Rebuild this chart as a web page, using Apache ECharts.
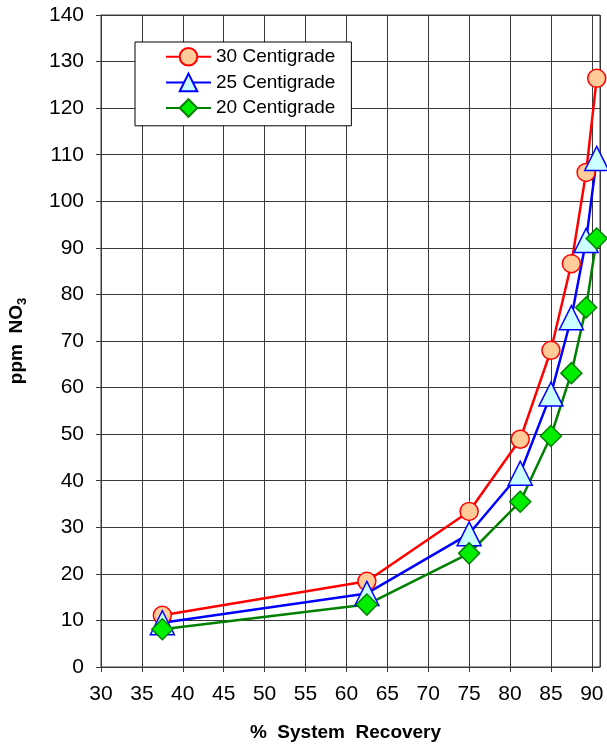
<!DOCTYPE html>
<html>
<head>
<meta charset="utf-8">
<script src="https://cdn.jsdelivr.net/npm/echarts@6/dist/echarts.min.js"></script>
<style>
  html, body { margin: 0; padding: 0; background: #fff; }
  #chart { width: 607px; height: 746px; }
</style>
</head>
<body>
<div id="chart"></div>
<script>
// % system recovery (x) for each measurement
const recovery = [37.5, 62.5, 75, 81.25, 85, 87.5, 89.3, 90.6];
// ppm NO3 at each recovery level, by feed temperature
const temp30 = [11.1, 18.4, 33.4, 48.9, 68.0, 86.6, 106.2, 126.4];
const temp25 = [9.5, 15.8, 28.6, 41.6, 58.6, 75.0, 91.6, 109.2];
const temp20 = [8.1, 13.4, 24.4, 35.5, 49.6, 63.1, 77.2, 92.0];
const seriesNames = ['30 Centigrade', '25 Centigrade', '20 Centigrade'];

const pairs = (ys) => recovery.map((x, i) => [x, ys[i]]);
const font = 'Liberation Sans, Arial, sans-serif';
const gridColor = '#3a3a3a';

const chart = echarts.init(document.getElementById('chart'), null, { renderer: 'canvas' });

function lineSeries(name, ys, lineColor, symbol, symbolSize, fill, stroke) {
  return {
    name: name,
    type: 'line',
    data: pairs(ys),
    symbol: symbol,
    symbolSize: symbolSize,
    lineStyle: { color: lineColor, width: 2.5 },
    itemStyle: { color: fill, borderColor: stroke, borderWidth: 1.5 },
    emphasis: { disabled: true },
    z: 3
  };
}

chart.setOption({
  animation: false,
  backgroundColor: '#fff',
  grid: {
    left: 101, top: 15, right: 7, bottom: 79,
    outerBoundsMode: 'none',
    containLabel: false,
    show: true, borderColor: gridColor, borderWidth: 1
  },
  legend: {
    orient: 'vertical',
    left: 135, top: 42,
    data: seriesNames,
    backgroundColor: '#fff',
    borderColor: '#000',
    borderWidth: 1,
    borderRadius: 0,
    padding: [5, 16, 8, 30],
    itemWidth: 45,
    itemHeight: 22,
    itemGap: 6,
    textStyle: { fontFamily: font, fontSize: 19, color: '#000' }
  },
  xAxis: {
    type: 'value',
    min: 30, max: 91, interval: 5,
    name: '%  System  Recovery',
    nameLocation: 'middle',
    nameGap: 56,
    nameTextStyle: { fontFamily: font, fontSize: 19, fontWeight: 'bold', color: '#000', padding: [0, 10, 0, 0] },
    axisLine: { show: true, onZero: false, lineStyle: { color: gridColor, width: 1 } },
    axisTick: { show: true, length: 5, lineStyle: { color: gridColor } },
    axisLabel: { fontFamily: font, fontSize: 21, color: '#000', margin: 17, showMaxLabel: false },
    splitLine: { show: true, lineStyle: { color: gridColor, width: 1 } }
  },
  yAxis: {
    type: 'value',
    min: 0, max: 140, interval: 10,
    name: '{a|ppm  NO}{s|3}',
    nameLocation: 'middle',
    nameRotate: 90,
    nameGap: 72,
    nameTextStyle: {
      rich: {
        a: { fontFamily: font, fontSize: 19, fontWeight: 'bold', color: '#000' },
        s: { fontFamily: font, fontSize: 13, fontWeight: 'bold', color: '#000', padding: [12, 0, 0, 0] }
      }
    },
    axisLine: { show: true, lineStyle: { color: gridColor, width: 1 } },
    axisTick: { show: true, length: 5, lineStyle: { color: gridColor } },
    axisLabel: { fontFamily: font, fontSize: 21, color: '#000', margin: 17 },
    splitLine: { show: true, lineStyle: { color: gridColor, width: 1 } }
  },
  series: [
    lineSeries(seriesNames[0], temp30, '#ff0000', 'circle', 18, '#ffcc99', '#ff0000'),
    lineSeries(seriesNames[1], temp25, '#0000ff', 'triangle', 24, '#ccffff', '#0000ff'),
    lineSeries(seriesNames[2], temp20, '#008000', 'diamond', 21, '#00ee00', '#008000')
  ]
});
</script>
</body>
</html>
